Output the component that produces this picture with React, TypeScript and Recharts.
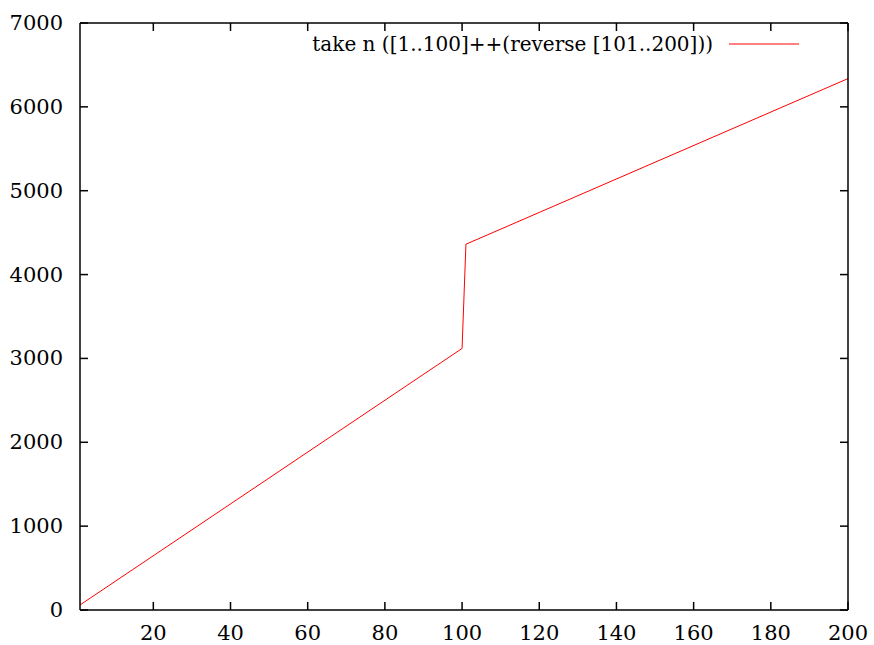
import React from "react";
import { LineChart, Line, XAxis, YAxis, Legend } from "recharts";

// n values and measured result values (vertices of the plotted line)
const nValues = [1, 100, 101, 200];
const resultValues = [60, 3119, 4362, 6337];

const xTicks = [20, 40, 60, 80, 100, 120, 140, 160, 180, 200];
const yTicks = [0, 1000, 2000, 3000, 4000, 5000, 6000, 7000];

const seriesName = "take n ([1..100]++(reverse [101..200]))";

const data = nValues.map((n, i) => ({ n, v: resultValues[i] }));

const FONT = "'DejaVu Serif'";
const FS = 21;
const LFS = 20;
const TICK = 8;
const BORDER = 1.5;

const BottomTick = (props: any) => {
  const { x, y, payload } = props;
  return (
    <g>
      <line x1={x} y1={y} x2={x} y2={y - TICK} stroke="#000" strokeWidth={BORDER} />
      <text x={x} y={y + 30} textAnchor="middle" style={{ fontSize: FS, fontFamily: FONT }} fill="#000">
        {payload.value}
      </text>
    </g>
  );
};

const TopTick = (props: any) => {
  const { x, y } = props;
  return <line x1={x} y1={y} x2={x} y2={y + TICK} stroke="#000" strokeWidth={BORDER} />;
};

const LeftTick = (props: any) => {
  const { x, y, payload } = props;
  return (
    <g>
      <line x1={x} y1={y} x2={x + TICK} y2={y} stroke="#000" strokeWidth={BORDER} />
      <text x={x - 17} y={y + 7} textAnchor="end" style={{ fontSize: FS, fontFamily: FONT }} fill="#000">
        {payload.value}
      </text>
    </g>
  );
};

const RightTick = (props: any) => {
  const { x, y } = props;
  return <line x1={x} y1={y} x2={x - TICK} y2={y} stroke="#000" strokeWidth={BORDER} />;
};

const LegendContent = () => (
  <svg width={874} height={70} style={{ display: "block" }}>
    <text x={713} y={50.5} textAnchor="end" style={{ fontSize: LFS, fontFamily: FONT }} fill="#000">
      {seriesName}
    </text>
    <line x1={729} y1={44} x2={799} y2={44} stroke="#ff0000" strokeWidth={1} />
  </svg>
);

export default function App() {
  return (
    <div style={{ width: 874, height: 645, background: "#fff" }}>
      <style>{`body{margin:0;}`}</style>
      <LineChart
        width={874}
        height={645}
        data={data}
        margin={{ top: 22, right: 25, bottom: 0, left: 0 }}
      >
        <XAxis
          xAxisId="bottom"
          dataKey="n"
          type="number"
          domain={[1, 200]}
          ticks={xTicks}
          height={35}
          tickSize={0}
          tickMargin={0}
          tickLine={false}
          axisLine={{ stroke: "#000", strokeWidth: BORDER }}
          tick={BottomTick}
          interval={0}
        />
        <XAxis
          xAxisId="top"
          orientation="top"
          dataKey="n"
          type="number"
          domain={[1, 200]}
          ticks={xTicks}
          height={1}
          tickSize={0}
          tickMargin={0}
          tickLine={false}
          axisLine={{ stroke: "#000", strokeWidth: BORDER }}
          tick={TopTick}
          interval={0}
        />
        <YAxis
          yAxisId="left"
          type="number"
          domain={[0, 7000]}
          ticks={yTicks}
          width={80}
          tickSize={0}
          tickMargin={0}
          tickLine={false}
          axisLine={{ stroke: "#000", strokeWidth: BORDER }}
          tick={LeftTick}
          interval={0}
        />
        <YAxis
          yAxisId="right"
          orientation="right"
          dataKey="v"
          type="number"
          domain={[0, 7000]}
          ticks={yTicks}
          width={1}
          tickSize={0}
          tickMargin={0}
          tickLine={false}
          axisLine={{ stroke: "#000", strokeWidth: BORDER }}
          tick={RightTick}
          interval={0}
        />
        <Legend
          layout="horizontal"
          verticalAlign="middle"
          align="center"
          content={LegendContent}
          wrapperStyle={{ top: 0, left: 0, width: 874, height: 70 }}
        />
        <Line
          xAxisId="bottom"
          yAxisId="left"
          dataKey="v"
          name={seriesName}
          stroke="#ff0000"
          strokeWidth={1}
          dot={false}
          activeDot={false}
          type="linear"
          isAnimationActive={false}
        />
      </LineChart>
    </div>
  );
}
